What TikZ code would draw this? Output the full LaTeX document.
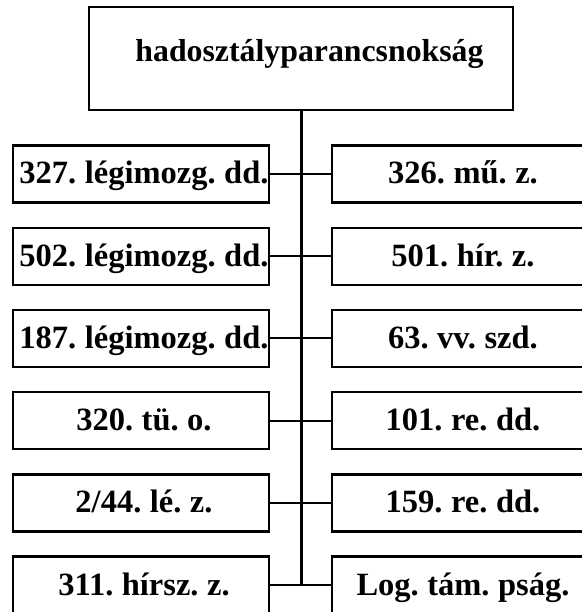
\documentclass[tikz,border=0pt]{standalone}
\usepackage{fontspec}
\setmainfont{Liberation Serif}
\newcommand\tightspacing{\spaceskip=5.8pt\relax}
\begin{document}
\begin{tikzpicture}[x=1pt,y=-1pt,
  box/.style={draw, line width=2.4pt, inner sep=0pt,
    font={\bfseries\fontsize{32.5}{36}\selectfont\tightspacing}, text height=20pt, text depth=0pt},
  leftbox/.style={box, minimum width=256pt, minimum height=57pt},
  rightbox/.style={box, minimum width=262pt, minimum height=57pt},
  topbox/.style={box, font={\bfseries\fontsize{31.8}{36}\selectfont}, minimum width=424pt, minimum height=103pt, text height=7pt},
  conn/.style={line width=2pt},
  trunk/.style={line width=3pt}]
\useasboundingbox (0,0) rectangle (581,612);
\node[topbox] (hq) at (301,58.5) {\hspace*{17pt}hadosztályparancsnokság};
% left column
\node[leftbox] (L1) at (141,174) {\hspace*{6pt}327. légimozg. dd.};
\node[leftbox] (L2) at (141,256.2) {\hspace*{6pt}502. légimozg. dd.};
\node[leftbox] (L3) at (141,338.4) {\hspace*{6pt}187. légimozg. dd.};
\node[leftbox] (L4) at (141,420.6) {\hspace*{6pt}320. tü. o.};
\node[leftbox] (L5) at (141,502.8) {\hspace*{6pt}2/44. lé. z.};
\node[leftbox] (L6) at (141,585) {\hspace*{6pt}311. hírsz. z.};
% right column
\node[rightbox] (R1) at (463,174) {326. mű. z.};
\node[rightbox] (R2) at (463,256.2) {501. hír. z.};
\node[rightbox] (R3) at (463,338.4) {63. vv. szd.};
\node[rightbox] (R4) at (463,420.6) {101. re. dd.};
\node[rightbox] (R5) at (463,502.8) {159. re. dd.};
\node[rightbox] (R6) at (463,585) {Log. tám. pság.};
% connectors
\coordinate (trunkend) at (hq.south |- L6.east);
\draw[trunk] (hq.south) -- (trunkend);
\foreach \i in {1,...,6} {
  \draw[conn] (L\i.east) -- (R\i.west);
}
\end{tikzpicture}
\end{document}
